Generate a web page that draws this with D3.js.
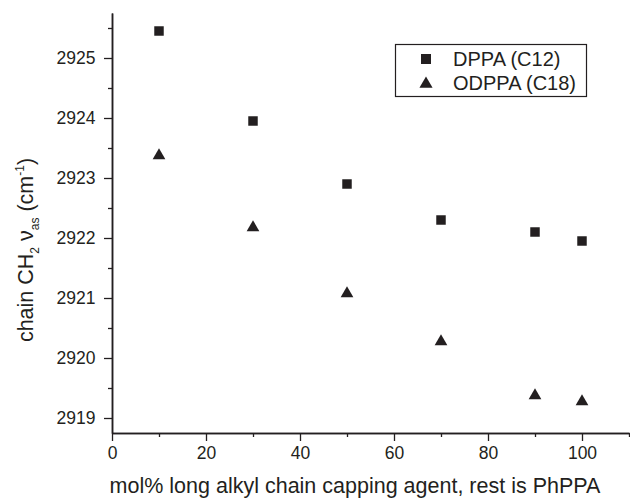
<!DOCTYPE html>
<html>
<head>
<meta charset="utf-8">
<script src="https://cdn.jsdelivr.net/npm/d3@7"></script>
<style>
  html, body { margin: 0; padding: 0; background: #fff; }
  svg { display: block; font-family: "Liberation Sans", Arial, sans-serif; }
</style>
</head>
<body>
<svg id="chart" width="630" height="499"></svg>
<script>
// Capping-agent fraction (mol%) and CH2 asymmetric stretch frequency (cm^-1)
const molPercent = [10, 30, 50, 70, 90, 100];
const dppaC12 = [2925.45, 2923.95, 2922.9, 2922.3, 2922.1, 2921.95];
const odppaC18 = [2923.4, 2922.2, 2921.1, 2920.3, 2919.4, 2919.3];

const xMajorTicks = [0, 20, 40, 60, 80, 100];
const xMinorTicks = [10, 30, 50, 70, 90, 110];
const yMajorTicks = [2919, 2920, 2921, 2922, 2923, 2924, 2925];
const yMinorTicks = [2919.5, 2920.5, 2921.5, 2922.5, 2923.5, 2924.5, 2925.5];

const seriesNames = ["DPPA (C12)", "ODPPA (C18)"];

const ink = "#231f20";
const svg = d3.select("#chart");

const x = d3.scaleLinear().domain([0, 110]).range([112, 629]);
const y = d3.scaleLinear().domain([2918.75, 2925.75]).range([433, 13]);

// Axes: major ticks with labels, minor ticks without
const xAxisG = svg.append("g").attr("transform", `translate(0,${y.range()[0]})`);
xAxisG.call(d3.axisBottom(x).tickValues(xMajorTicks).tickSize(8).tickSizeOuter(0).tickPadding(6).tickFormat(d3.format("d")));
const xMinorG = svg.append("g").attr("transform", `translate(0,${y.range()[0]})`);
xMinorG.call(d3.axisBottom(x).tickValues(xMinorTicks).tickSize(4).tickSizeOuter(0).tickFormat(""));

const yAxisG = svg.append("g").attr("transform", `translate(${x.range()[0]},0)`);
yAxisG.call(d3.axisLeft(y).tickValues(yMajorTicks).tickSize(8).tickSizeOuter(0).tickPadding(8.5).tickFormat(d3.format("d")));
const yMinorG = svg.append("g").attr("transform", `translate(${x.range()[0]},0)`);
yMinorG.call(d3.axisLeft(y).tickValues(yMinorTicks).tickSize(4).tickSizeOuter(0).tickFormat(""));

svg.selectAll(".domain").attr("stroke", ink).attr("stroke-width", 1.5);
svg.selectAll(".tick line").attr("stroke", ink).attr("stroke-width", 1.3);
svg.selectAll(".tick text")
  .attr("fill", ink)
  .style("font-size", "17.5px")
  .style("font-family", "'Liberation Sans', Arial, sans-serif");
xAxisG.selectAll(".tick text").attr("dy", "0.71em");

// Markers
const squareSym = d3.symbol().type(d3.symbolSquare).size(90);
const triSym = d3.symbol().type(d3.symbolTriangle).size(70);

svg.append("g").selectAll("path")
  .data(molPercent.map((m, i) => [m, dppaC12[i]]))
  .join("path")
  .attr("d", squareSym)
  .attr("transform", d => `translate(${x(d[0])},${y(d[1])})`)
  .attr("fill", ink);

svg.append("g").selectAll("path")
  .data(molPercent.map((m, i) => [m, odppaC18[i]]))
  .join("path")
  .attr("d", triSym)
  .attr("transform", d => `translate(${x(d[0])},${y(d[1]) + 1.5})`)
  .attr("fill", ink);

// Legend
const legend = svg.append("g");
legend.append("rect")
  .attr("x", 395.5).attr("y", 44.5).attr("width", 191).attr("height", 52)
  .attr("fill", "#fff").attr("stroke", ink).attr("stroke-width", 1.2);
const legendRows = [
  { name: seriesNames[0], sym: d3.symbol().type(d3.symbolSquare).size(100), dy: 0 },
  { name: seriesNames[1], sym: d3.symbol().type(d3.symbolTriangle).size(75), dy: 24 }
];
legendRows.forEach(r => {
  legend.append("path")
    .attr("d", r.sym)
    .attr("transform", `translate(426,${59 + r.dy + (r.dy ? 1 : 0)})`)
    .attr("fill", ink);
  legend.append("text")
    .attr("x", 453).attr("y", 66 + r.dy)
    .attr("fill", ink)
    .style("font-size", "20px")
    .text(r.name);
});

// Axis titles
svg.append("text")
  .attr("x", 355).attr("y", 493)
  .attr("text-anchor", "middle")
  .attr("fill", ink)
  .style("font-size", "21.5px")
  .text("mol% long alkyl chain capping agent, rest is PhPPA");

const yTitle = svg.append("text")
  .attr("transform", "translate(33,250) rotate(-90)")
  .attr("text-anchor", "middle")
  .attr("fill", ink)
  .style("font-size", "21.5px");
yTitle.append("tspan").text("chain CH");
yTitle.append("tspan").attr("font-size", "12px").attr("dy", 6).text("2");
yTitle.append("tspan").attr("dy", -6).text(" \u03BD");
yTitle.append("tspan").attr("font-size", "12px").attr("dy", 6).text("as");
yTitle.append("tspan").attr("dy", -6).text(" (cm");
yTitle.append("tspan").attr("font-size", "12px").attr("dy", -9).text("-1");
yTitle.append("tspan").attr("dy", 9).text(")");
</script>
</body>
</html>
